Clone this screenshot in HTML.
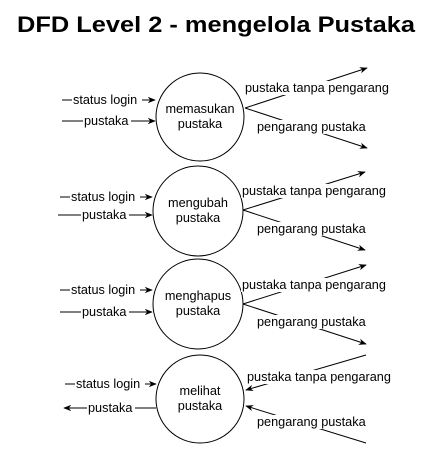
<!DOCTYPE html>
<html><head><meta charset="utf-8"><style>
html,body{margin:0;padding:0;background:#fff;width:432px;height:455px;overflow:hidden}
svg{display:block}
text{font-family:"Liberation Sans",sans-serif;font-size:12.7px;fill:#000}
</style></head><body>
<svg width="432" height="455" viewBox="0 0 432 455" xmlns="http://www.w3.org/2000/svg">
<defs>
<marker id="a" viewBox="0 0 10 10" refX="9" refY="5" markerWidth="8" markerHeight="8" orient="auto-start-reverse" markerUnits="userSpaceOnUse">
<path d="M0,1 L10,5 L0,9 L3,5 z" fill="#000"/></marker>
</defs>
<text x="216" y="32" text-anchor="middle" style="font-size:22px;font-weight:bold" textLength="398" lengthAdjust="spacingAndGlyphs">DFD Level 2 - mengelola Pustaka</text>
<g stroke="#000" stroke-width="1" fill="none">
<circle cx="200" cy="117" r="44"/>
<circle cx="198" cy="211" r="45"/>
<circle cx="198" cy="304" r="45"/>
<circle cx="200" cy="399" r="44"/>
<line x1="62" y1="100" x2="155" y2="100" marker-end="url(#a)"/>
<line x1="62" y1="121" x2="155" y2="121" marker-end="url(#a)"/>
<line x1="60" y1="197" x2="152" y2="197" marker-end="url(#a)"/>
<line x1="58" y1="215" x2="152" y2="215" marker-end="url(#a)"/>
<line x1="60" y1="290" x2="152" y2="290" marker-end="url(#a)"/>
<line x1="60" y1="312" x2="152" y2="312" marker-end="url(#a)"/>
<line x1="65" y1="384" x2="156" y2="384" marker-end="url(#a)"/>
<line x1="156" y1="408" x2="64" y2="408" marker-end="url(#a)"/>
<line x1="245" y1="108" x2="367" y2="68" marker-end="url(#a)"/>
<line x1="245" y1="108" x2="367" y2="148" marker-end="url(#a)"/>
<line x1="243" y1="210" x2="365" y2="172" marker-end="url(#a)"/>
<line x1="243" y1="210" x2="365" y2="250" marker-end="url(#a)"/>
<line x1="243" y1="304" x2="366" y2="265" marker-end="url(#a)"/>
<line x1="243" y1="304" x2="366" y2="344" marker-end="url(#a)"/>
<line x1="366" y1="355" x2="246" y2="390" marker-end="url(#a)"/>
<line x1="366" y1="443" x2="246" y2="406" marker-end="url(#a)"/>
</g>
<g>
<rect x="72" y="93" width="70" height="14" fill="#fff"/><text x="73" y="104">status login</text>
<rect x="83" y="114" width="48" height="14" fill="#fff"/><text x="84" y="125">pustaka</text>
<rect x="70" y="190" width="70" height="14" fill="#fff"/><text x="71" y="201">status login</text>
<rect x="81" y="208" width="48" height="14" fill="#fff"/><text x="82" y="219">pustaka</text>
<rect x="70" y="283" width="70" height="14" fill="#fff"/><text x="71" y="294">status login</text>
<rect x="81" y="305" width="48" height="14" fill="#fff"/><text x="82" y="316">pustaka</text>
<rect x="75" y="377" width="70" height="14" fill="#fff"/><text x="76" y="388">status login</text>
<rect x="87" y="401" width="48" height="14" fill="#fff"/><text x="88" y="412">pustaka</text>

<rect x="244" y="81" width="148" height="14" fill="#fff"/><text x="245" y="92">pustaka tanpa pengarang</text>
<rect x="256" y="120" width="111" height="14" fill="#fff"/><text x="257" y="131">pengarang pustaka</text>
<rect x="241" y="184" width="148" height="14" fill="#fff"/><text x="242" y="195">pustaka tanpa pengarang</text>
<rect x="256" y="222" width="111" height="14" fill="#fff"/><text x="257" y="233">pengarang pustaka</text>
<rect x="241" y="278" width="148" height="14" fill="#fff"/><text x="242" y="289">pustaka tanpa pengarang</text>
<rect x="256" y="315" width="111" height="14" fill="#fff"/><text x="257" y="326">pengarang pustaka</text>
<rect x="246" y="370" width="148" height="14" fill="#fff"/><text x="247" y="381">pustaka tanpa pengarang</text>
<rect x="256" y="415" width="111" height="14" fill="#fff"/><text x="257" y="426">pengarang pustaka</text>

<text x="200" y="113" text-anchor="middle">memasukan</text>
<text x="200" y="128" text-anchor="middle">pustaka</text>
<text x="198" y="207" text-anchor="middle">mengubah</text>
<text x="198" y="222" text-anchor="middle">pustaka</text>
<text x="198" y="300" text-anchor="middle">menghapus</text>
<text x="198" y="315" text-anchor="middle">pustaka</text>
<text x="200" y="395" text-anchor="middle">melihat</text>
<text x="200" y="410" text-anchor="middle">pustaka</text>
</g>
</svg>
</body></html>
